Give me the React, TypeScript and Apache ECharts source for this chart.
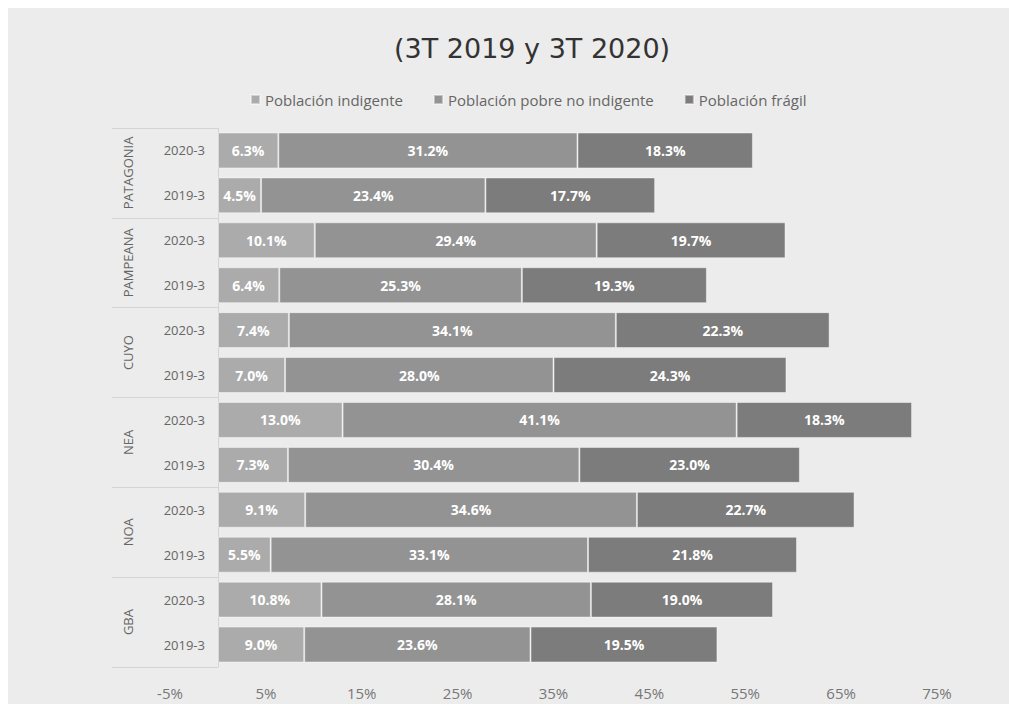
import React, { useEffect, useRef } from "react";
import * as echarts from "echarts";

const rowLabels = [
  "2019-3", "2020-3", "2019-3", "2020-3", "2019-3", "2020-3",
  "2019-3", "2020-3", "2019-3", "2020-3", "2019-3", "2020-3",
];
const regions = ["GBA", "NOA", "NEA", "CUYO", "PAMPEANA", "PATAGONIA"];
const indigente = [9.0, 10.8, 5.5, 9.1, 7.3, 13.0, 7.0, 7.4, 6.4, 10.1, 4.5, 6.3];
const pobreNoIndigente = [23.6, 28.1, 33.1, 34.6, 30.4, 41.1, 28.0, 34.1, 25.3, 29.4, 23.4, 31.2];
const fragil = [19.5, 19.0, 21.8, 22.7, 23.0, 18.3, 24.3, 22.3, 19.3, 19.7, 17.7, 18.3];
const seriesNames = ["Población indigente", "Población pobre no indigente", "Población frágil"];
const seriesColors = ["#ababab", "#939393", "#7c7c7c"];
const xTicks = { min: -5, max: 75, interval: 10 };

const FONT = "'Open Sans', 'DejaVu Sans', sans-serif";

export default function App() {
  const ref = useRef<HTMLDivElement>(null);
  useEffect(() => {
    if (!ref.current) return;
    const chart = echarts.init(ref.current, null, { renderer: "svg" });
    const mk = (name: string, data: number[], color: string) => ({
      name,
      type: "bar",
      stack: "total",
      data,
      barCategoryGap: "20%",
      itemStyle: { color, borderColor: "rgba(255,255,255,0.45)", borderWidth: 1 },
      label: {
        show: true,
        position: "inside",
        color: "#ffffff",
        fontWeight: "bold",
        fontSize: 14,
        fontFamily: FONT,
        formatter: (p: any) => Number(p.value).toFixed(1) + "%",
      },
    });
    chart.setOption({
      animation: false,
      backgroundColor: "#ececec",
      title: {
        text: "(3T 2019 y 3T 2020)",
        left: 381,
        top: 22,
        textStyle: {
          fontFamily: "'DejaVu Sans', sans-serif",
          fontSize: 27,
          fontWeight: "normal",
          color: "#333333",
        },
      },
      legend: {
        data: seriesNames,
        left: 237,
        top: 79,
        itemWidth: 9,
        itemHeight: 9,
        itemGap: 30,
        icon: "rect",
        textStyle: { fontFamily: FONT, fontSize: 15, color: "#666666" },
      },
      grid: { left: 162, right: 72, top: 120, bottom: 37, containLabel: false },
      xAxis: {
        type: "value",
        min: xTicks.min,
        max: xTicks.max,
        interval: xTicks.interval,
        axisLine: { show: false },
        axisTick: { show: false },
        splitLine: { show: false },
        axisLabel: {
          formatter: "{value}%",
          color: "#777777",
          fontSize: 15,
          fontFamily: FONT,
          margin: 18,
        },
      },
      yAxis: [
        {
          type: "category",
          data: rowLabels,
          position: "left",
          offset: -48,
          axisLine: { show: true, onZero: false, lineStyle: { color: "#d4d4d4", width: 1 } },
          axisTick: { show: false },
          axisLabel: { interval: 0, color: "#666666", fontSize: 13, fontFamily: FONT, margin: 13 },
        },
        {
          type: "category",
          data: regions,
          position: "left",
          offset: 58,
          axisLine: { show: false, onZero: false, lineStyle: { color: "rgba(0,0,0,0)" } },
          axisTick: {
            show: true,
            inside: true,
            interval: 0,
            length: 106,
            lineStyle: { color: "#d4d4d4", width: 1 },
          },
          axisLabel: {
            interval: 0,
            hideOverlap: false,
            inside: true,
            rotate: 90,
            margin: 9,
            color: "#666666",
            fontSize: 13,
            fontFamily: FONT,
          },
        },
      ],
      series: [
        mk(seriesNames[0], indigente, seriesColors[0]),
        mk(seriesNames[1], pobreNoIndigente, seriesColors[1]),
        mk(seriesNames[2], fragil, seriesColors[2]),
      ],
    });
    return () => chart.dispose();
  }, []);
  return (
    <div
      ref={ref}
      style={{ position: "fixed", left: 8, top: 8, width: 1001, height: 696 }}
    />
  );
}
